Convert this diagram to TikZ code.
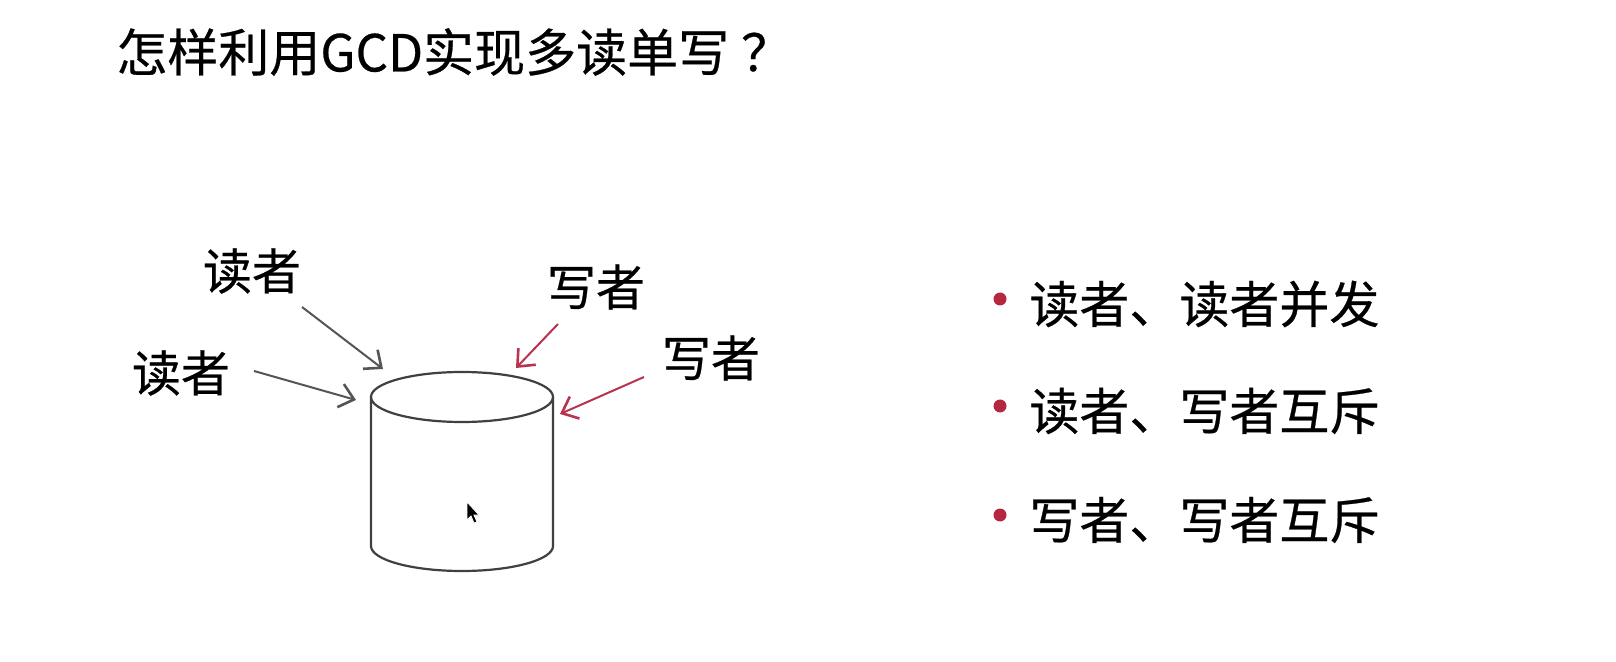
\documentclass[tikz,border=0pt]{standalone}
\usepackage{fontspec}
\newfontfamily\cjk[FakeBold=0.5]{Noto Sans CJK SC}
\usetikzlibrary{arrows.meta}
\definecolor{readgray}{HTML}{555555}
\definecolor{writered}{HTML}{B8344E}
\definecolor{dotred}{HTML}{B5263F}
\tikzset{
  title/.style={anchor=west, inner sep=0pt, font=\cjk\fontsize{25.5pt}{30pt}\selectfont},
  label/.style={inner sep=0pt, font=\cjk\fontsize{24.5pt}{29pt}\selectfont},
  item/.style={anchor=west, inner sep=0pt, font=\cjk\fontsize{25pt}{30pt}\selectfont},
  readarrow/.style={draw=readgray, line width=1pt, -{Straight Barb[length=7pt,width=12pt,line width=1.3pt]}},
  writearrow/.style={draw=writered, line width=1pt, -{Straight Barb[length=7pt,width=12pt,line width=1.3pt]}},
  bulletdot/.style={circle, fill=dotred, inner sep=0pt, minimum size=6.5pt},
  cyl/.style={draw=black!75, line width=1.1pt}
}
\begin{document}
\begin{tikzpicture}[x=0.5pt,y=-0.5pt]
  \useasboundingbox (0,0) rectangle (1616,662);
  \fill[white] (0,0) rectangle (1616,662);

  % heading
  \node[title] (heading) at (116,52) {怎样利用GCD实现多读单写\hspace{6pt}？};

  % the shared store
  \draw[cyl] (371,397) -- (371,546) arc[start angle=180, end angle=0, x radius=91, y radius=25] -- (553,397);
  \draw[cyl] (462,397) ellipse[x radius=91, y radius=25];
  \coordinate (store) at (462,470);

  % readers and writers
  \node[label] (r1) at (252,271) {读者};
  \node[label] (r2) at (181,373) {读者};
  \node[label] (w1) at (596,287) {写者};
  \node[label] (w2) at (711,358) {写者};

  \coordinate (r1s) at (302,307);
  \coordinate (r1e) at (383,369);
  \coordinate (r2s) at (254,371);
  \coordinate (r2e) at (356,400);
  \coordinate (w1s) at (558,324);
  \coordinate (w1e) at (516,368);
  \coordinate (w2s) at (644,377);
  \coordinate (w2e) at (560,414);

  \draw[readarrow] (r1s) -- (r1e);
  \draw[readarrow] (r2s) -- (r2e);
  \draw[writearrow] (w1s) -- (w1e);
  \draw[writearrow] (w2s) -- (w2e);

  % mouse pointer
  \filldraw[fill=black, draw=white, line width=0.4pt, shift={(467,502)}]
    (0,0) -- (0,18) -- (4,14) -- (7,21) -- (10,20) -- (7,13) -- (12,13) -- cycle;

  % rules
  \node[bulletdot] (d1) at (1000,299) {};
  \node[bulletdot] (d2) at (1000,406) {};
  \node[bulletdot] (d3) at (1000,515) {};
  \node[item] (t1) at (1029,304) {读者、读者并发};
  \node[item] (t2) at (1029,411) {读者、写者互斥};
  \node[item] (t3) at (1029,520) {写者、写者互斥};
\end{tikzpicture}
\end{document}
